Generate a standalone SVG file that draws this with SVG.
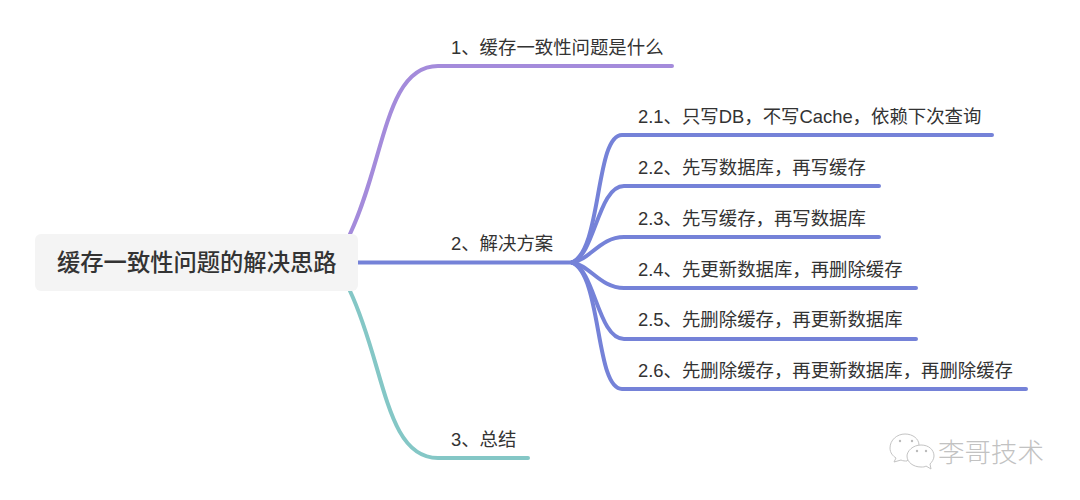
<svg xmlns="http://www.w3.org/2000/svg" width="1080" height="500" viewBox="0 0 1080 500">
<style>
text{font-family:"Liberation Sans","Noto Sans CJK SC",sans-serif;fill:#333}
.t{font-size:18.400px}
.c{fill:none;stroke-width:4;stroke-linecap:round}
.p{stroke:#a48bdb}
.b{stroke:#7582d8}
.g{stroke:#84c7c6}
.w{fill:#fff;stroke:#c4c4c4;stroke-width:1}
</style>
<rect width="1080" height="500" fill="#fff"/>
<g id="connectors">
<path class="c p" d="M350 234C385 160 385 66 438 66H672"/>
<path class="c b" d="M358 262.500H572"/>
<path class="c g" d="M350 291C385 365 385 458 438 458H528"/>
<path class="c b" d="M572 262.500C602 250 595 135 622 135H992"/>
<path class="c b" d="M572 262.500C595 255 598 186 624 186H879"/>
<path class="c b" d="M572 262.500C590 260 600 237 624 237H879"/>
<path class="c b" d="M572 262.500C590 265 600 288 624 288H916"/>
<path class="c b" d="M572 262.500C595 270 598 339 624 339H916"/>
<path class="c b" d="M572 262.500C602 275 595 389 622 389H1026"/>
</g>
<g id="root"><rect x="35" y="234" width="323" height="57" rx="6" fill="#f4f4f4"/><text x="57" y="271" font-size="23.300" font-weight="500">缓存一致性问题的解决思路</text></g>
<g id="n1"><text class="t" x="451" y="53.500">1、缓存一致性问题是什么</text></g>
<g id="n2"><text class="t" x="451" y="250">2、解决方案</text></g>
<g id="n3"><text class="t" x="451" y="445.500">3、总结</text></g>
<g id="n21"><text class="t" x="638" y="122.500">2.1、只写DB，不写Cache，依赖下次查询</text></g>
<g id="n22"><text class="t" x="638" y="173.500">2.2、先写数据库，再写缓存</text></g>
<g id="n23"><text class="t" x="638" y="224.500">2.3、先写缓存，再写数据库</text></g>
<g id="n24"><text class="t" x="638" y="275.500">2.4、先更新数据库，再删除缓存</text></g>
<g id="n25"><text class="t" x="638" y="326">2.5、先删除缓存，再更新数据库</text></g>
<g id="n26"><text class="t" x="638" y="376.500">2.6、先删除缓存，再更新数据库，再删除缓存</text></g>
<g id="watermark">
<path class="w" d="M905 434C897 434 890 440 890 448C890 453 893 456 896 458L894 462L901 460C903 461 905 461 907 461L919 445C919 439 913 434 905 434Z"/>
<path class="w" d="M921 445C913 445 907 451 907 456C907 462 913 467 921 467C923 467 925 467 926 466L931 469L930 464C932 462 934 459 934 456C934 450 929 445 921 445Z"/>
<g fill="#bbb"><circle cx="900" cy="441" r="1.200"/><circle cx="912" cy="441" r="1.200"/><circle cx="917" cy="451" r="1.200"/><circle cx="926" cy="451" r="1.200"/></g>
<text x="938" y="462" font-size="26.500" style="fill:#c2c2c2;font-weight:300">李哥技术</text>
</g>
</svg>
